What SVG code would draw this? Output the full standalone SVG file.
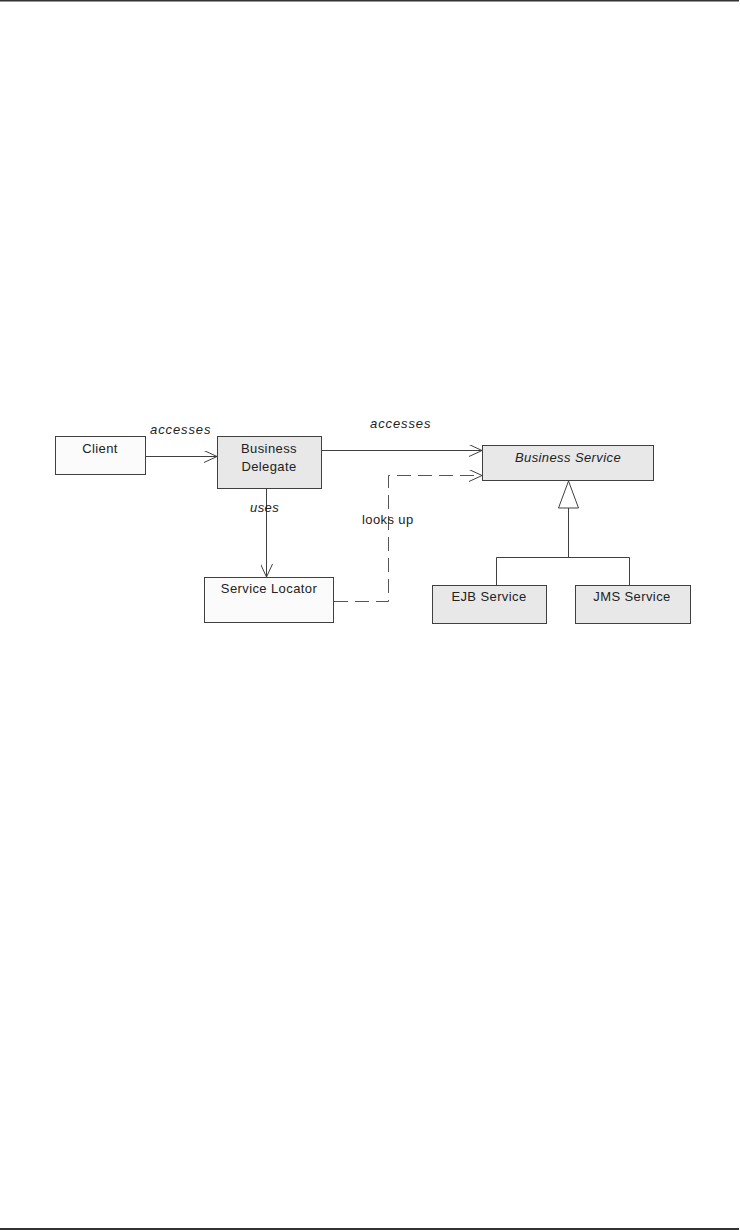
<svg xmlns="http://www.w3.org/2000/svg" width="740" height="1230" viewBox="0 0 740 1230">
<style>
.box{stroke:#404040;stroke-width:1}
.g{fill:#e8e8e8}
.w{fill:#fbfbfb}
text{font-family:"Liberation Sans",Arial,sans-serif;font-size:13px;fill:#222;letter-spacing:0.4px}
.c{text-anchor:middle}
.i{font-style:italic}
.ls{letter-spacing:0.9px}
.ln{fill:none;stroke:#404040;stroke-width:1}
.dash{fill:none;stroke:#555;stroke-width:1;stroke-dasharray:14 7}
</style>
<defs>
<marker id="open" markerWidth="14" markerHeight="12" refX="13" refY="6" orient="auto" markerUnits="userSpaceOnUse">
<path d="M0,0 L13,6 L0,12" fill="none" stroke="#404040" stroke-width="1"/>
</marker>
</defs>
<rect x="0" y="0" width="739" height="1.5" fill="#333"/>
<rect x="0" y="1228" width="739" height="2" fill="#333"/>
<g id="client"><rect class="box w" x="55.5" y="436.5" width="90" height="38"/><text class="c" x="100" y="453">Client</text></g>
<g id="delegate"><rect class="box g" x="217.5" y="436.5" width="104" height="52"/><text class="c" x="269" y="453">Business</text><text class="c" x="269" y="471">Delegate</text></g>
<g id="service"><rect class="box g" x="482.5" y="445.5" width="171" height="35"/><text class="c i" x="568" y="462">Business Service</text></g>
<g id="locator"><rect class="box w" x="204.5" y="577.5" width="129" height="45"/><text class="c" x="269" y="593">Service Locator</text></g>
<g id="ejb"><rect class="box g" x="432.5" y="585.5" width="114" height="38"/><text class="c" x="489" y="601">EJB Service</text></g>
<g id="jms"><rect class="box g" x="575.5" y="585.5" width="115" height="38"/><text class="c" x="632" y="601">JMS Service</text></g>
<g id="connectors">
<path class="ln" d="M146,456.5 H217" marker-end="url(#open)"/>
<text class="i ls" x="150" y="434">accesses</text>
<path class="ln" d="M322,450.5 H482" marker-end="url(#open)"/>
<text class="i ls" x="370" y="428">accesses</text>
<path class="ln" d="M266.5,489 V577" marker-end="url(#open)"/>
<text class="i" x="250" y="512">uses</text>
<path class="dash" d="M334,601.5 H388.5 V475.5 H482" marker-end="url(#open)"/>
<text x="362" y="524">looks up</text>
<path class="ln" d="M568.5,508 V557.5 M496.5,585 V557.5 H629.5 V585"/>
<path d="M568.5,481 L578.5,508 H558.5 Z" fill="#fff" stroke="#404040" stroke-width="1"/>
</g>
</svg>
